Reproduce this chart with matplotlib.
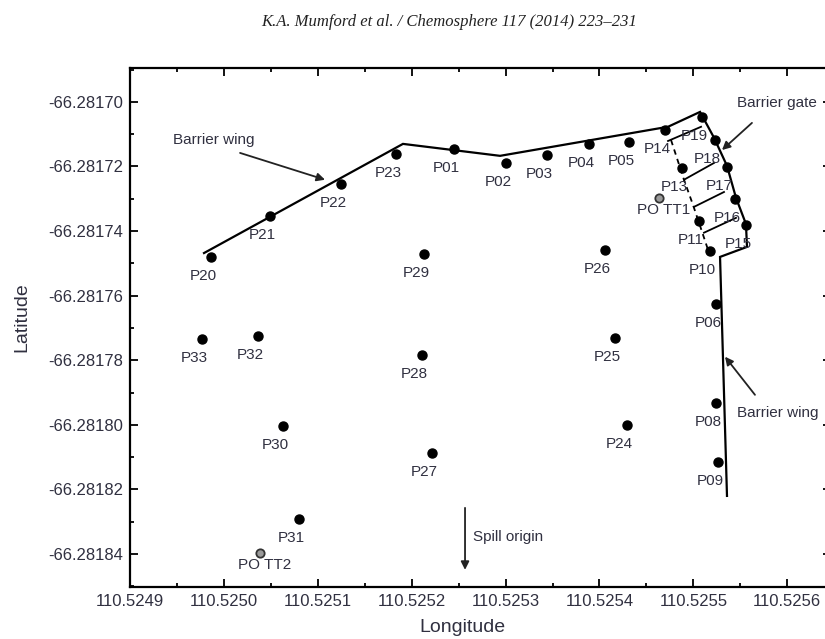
import matplotlib.pyplot as plt
from matplotlib.ticker import MultipleLocator, FormatStrFormatter

# Sampling points (lon, lat)
labels = ['P01', 'P02', 'P03', 'P04', 'P05', 'P06', 'P08', 'P09', 'P10', 'P11',
          'P13', 'P14', 'P15', 'P16', 'P17', 'P18', 'P19', 'P20', 'P21', 'P22',
          'P23', 'P24', 'P25', 'P26', 'P27', 'P28', 'P29', 'P30', 'P31', 'P32', 'P33']
lon = [110.5252451, 110.5253004, 110.5253441, 110.5253888, 110.5254314, 110.5255241,
       110.5255241, 110.5255262, 110.5255177, 110.5255060, 110.5254879, 110.5254698,
       110.5255560, 110.5255443, 110.5255358, 110.5255230, 110.5255092, 110.5249863,
       110.5250491, 110.5251247, 110.5251833, 110.5254293, 110.5254165, 110.5254059,
       110.5252216, 110.5252110, 110.5252131, 110.5250629, 110.5250800, 110.5250363,
       110.5249767]
lat = [-66.2817146, -66.2817189, -66.2817164, -66.2817130, -66.2817124, -66.2817625,
       -66.2817932, -66.2818115, -66.2817461, -66.2817368, -66.2817204, -66.2817087,
       -66.2817381, -66.2817300, -66.2817201, -66.2817118, -66.2817046, -66.2817480,
       -66.2817353, -66.2817254, -66.2817161, -66.2818000, -66.2817731, -66.2817458,
       -66.2818087, -66.2817783, -66.2817471, -66.2818003, -66.2818291, -66.2817724,
       -66.2817734]

# observation wells
tt_labels = ['PO TT1', 'PO TT2']
tt_lon = [110.5254634, 110.5250385]
tt_lat = [-66.2817297, -66.2818396]

# barrier outline: left wing + front of gate + right wing
wall_lon = [110.5249788, 110.5251907, 110.5252941, 110.5254730, 110.5255071,
            110.5255220, 110.5255358, 110.5255454, 110.5255560, 110.5255571,
            110.5255284, 110.5255358]
wall_lat = [-66.2817468, -66.2817130, -66.2817167, -66.2817077, -66.2817031,
            -66.2817111, -66.2817198, -66.2817297, -66.2817378, -66.2817449,
            -66.2817480, -66.2818220]

# back of the gate (dashed)
back_lon = [110.5254762, 110.5254900, 110.5254996, 110.5255092, 110.5255156]
back_lat = [-66.2817118, -66.2817241, -66.2817319, -66.2817402, -66.2817458]

# cell dividers in the gate
div_lon = [(110.5254730, 110.5255082), (110.5254900, 110.5255220),
           (110.5255007, 110.5255326), (110.5255113, 110.5255454)]
div_lat = [(-66.2817121, -66.2817077), (-66.2817241, -66.2817189),
           (-66.2817325, -66.2817279), (-66.2817405, -66.2817359)]

txt = '#303040'

fig = plt.figure(figsize=(8.25, 6.39), dpi=100)
ax = fig.add_axes([0.1576, 0.0814, 0.8497, 0.8122])

ax.plot(wall_lon, wall_lat, color='black', lw=1.6, solid_joinstyle='miter')
ax.plot(back_lon, back_lat, color='black', lw=1.3, ls=(0, (3, 2.5)))
for xs, ys in zip(div_lon, div_lat):
    ax.plot(xs, ys, color='black', lw=1.3)

ax.plot(lon, lat, 'o', color='black', ms=6.5, zorder=3)
ax.plot(tt_lon, tt_lat, 'o', mfc='#9a9a9a', mec='#333333', mew=1.3, ms=6, zorder=3)

for name, x, y in zip(labels, lon, lat):
    ax.annotate(name, (x, y), xytext=(-8, -19), textcoords='offset pixels',
                ha='center', va='center', fontsize=11, color=txt, family='Liberation Sans')
for name, x, y in zip(tt_labels, tt_lon, tt_lat):
    ax.annotate(name, (x, y), xytext=(5, -12), textcoords='offset pixels',
                ha='center', va='center', fontsize=11, color=txt, family='Liberation Sans')

arrow = dict(arrowstyle='-|>', color='#222222', lw=1.3, mutation_scale=12, shrinkA=0, shrinkB=0)
ax.annotate('', xy=(110.5251077, -66.2817241), xytext=(110.5250172, -66.2817158), arrowprops=arrow)
ax.text(110.5249895, -66.2817118, 'Barrier wing', ha='center', va='center',
        fontsize=11, color=txt, family='Liberation Sans')
ax.annotate('', xy=(110.5255305, -66.2817149), xytext=(110.5255624, -66.2817065), arrowprops=arrow)
ax.text(110.5255465, -66.2817003, 'Barrier gate', ha='left', va='center',
        fontsize=11, color=txt, family='Liberation Sans')
ax.annotate('', xy=(110.5255337, -66.2817789), xytext=(110.5255656, -66.2817907), arrowprops=arrow)
ax.text(110.5255465, -66.2817963, 'Barrier wing', ha='left', va='center',
        fontsize=11, color=txt, family='Liberation Sans')
ax.annotate('', xy=(110.5252568, -66.2818449), xytext=(110.5252568, -66.2818257), arrowprops=arrow)
ax.text(110.5252653, -66.2818347, 'Spill origin', ha='left', va='center',
        fontsize=11, color=txt, family='Liberation Sans')

ax.set_xlim(110.5249, 110.5256466)
ax.set_ylim(-66.2818502, -66.2816895)
ax.xaxis.set_major_locator(MultipleLocator(0.0001))
ax.xaxis.set_minor_locator(MultipleLocator(0.00005))
ax.yaxis.set_major_locator(MultipleLocator(0.00002))
ax.yaxis.set_minor_locator(MultipleLocator(0.00001))
ax.xaxis.set_major_formatter(FormatStrFormatter('%.4f'))
ax.yaxis.set_major_formatter(FormatStrFormatter('%.5f'))
ax.tick_params(which='both', direction='in', top=True, right=True, width=1.3,
               labelsize=12, labelcolor=txt)
ax.tick_params(which='major', length=5.5, pad=5)
ax.tick_params(which='minor', length=3)
for lbl in ax.get_xticklabels() + ax.get_yticklabels():
    lbl.set_family('Liberation Sans')
for s in ax.spines.values():
    s.set_linewidth(1.6)

ax.set_xlabel('Longitude', fontsize=14, color=txt, family='Liberation Sans', va='center')
ax.set_ylabel('Latitude', fontsize=14, color=txt, family='Liberation Sans', va='center')
ax.xaxis.set_label_coords(0.474, -0.079)
ax.yaxis.set_label_coords(-0.154, 0.52)

fig.text(0.545, 0.9656, 'K.A. Mumford et al. / Chemosphere 117 (2014) 223\u2013231',
         ha='center', va='center', fontsize=12, style='italic', color='#222222',
         family='Liberation Serif')

fig.savefig('out.png', dpi=100)
